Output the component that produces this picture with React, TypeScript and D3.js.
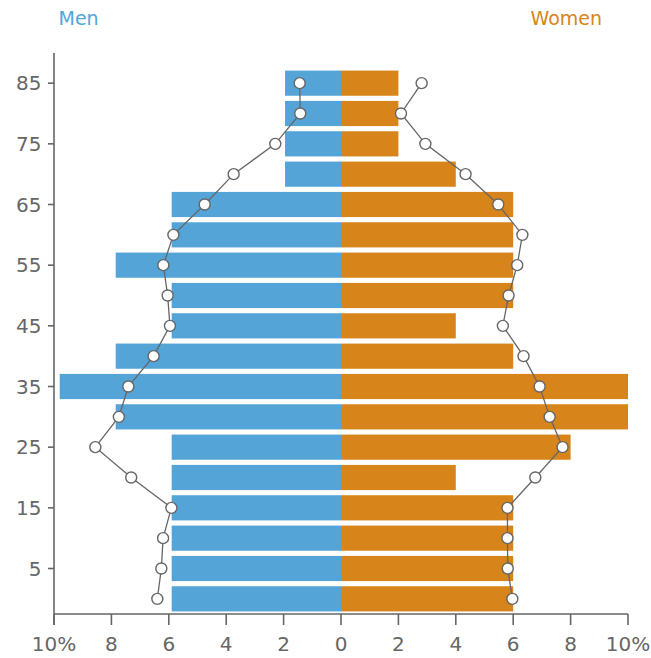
import React from "react";
import * as d3 from "d3";

const ages = [85, 80, 75, 70, 65, 60, 55, 50, 45, 40, 35, 30, 25, 20, 15, 10, 5, 0];
const menBars = [1.95, 1.95, 1.95, 1.95, 5.9, 5.9, 7.85, 5.9, 5.9, 7.85, 9.8, 7.85, 5.9, 5.9, 5.9, 5.9, 5.9, 5.9];
const womenBars = [2, 2, 2, 4, 6, 6, 6, 6, 4, 6, 10, 10, 8, 4, 6, 6, 6, 6];
const menPoints = [1.44, 1.42, 2.29, 3.74, 4.75, 5.84, 6.19, 6.04, 5.96, 6.53, 7.41, 7.74, 8.56, 7.31, 5.91, 6.2, 6.26, 6.4];
const womenPoints = [2.81, 2.09, 2.94, 4.34, 5.48, 6.32, 6.14, 5.84, 5.64, 6.36, 6.92, 7.27, 7.72, 6.77, 5.8, 5.8, 5.81, 5.97];
const yTickAges = [85, 75, 65, 55, 45, 35, 25, 15, 5];
const xTicks = [-10, -8, -6, -4, -2, 0, 2, 4, 6, 8, 10];
const xTickLabels = ["10%", "8", "6", "4", "2", "0", "2", "4", "6", "8", "10%"];

const BLUE = "#54A4D7";
const ORANGE = "#D7851A";
const GRAY = "#666666";
const FONT = "DejaVu Sans, Verdana, sans-serif";

export default function App() {
  const W = 651, H = 658;
  const x = d3.scaleLinear().domain([-10, 10]).range([54, 628]);
  const y = d3.scaleBand<number>().domain(ages).range([68, 614]).paddingInner(0.17).paddingOuter(0.085);
  const yc = (a: number) => (y(a) as number) + y.bandwidth() / 2;
  const axisTop = 53, axisBottom = 614;

  const menLine = d3.line<number>().x((v) => x(-v)).y((_, i) => yc(ages[i]))(menPoints) as string;
  const womenLine = d3.line<number>().x((v) => x(v)).y((_, i) => yc(ages[i]))(womenPoints) as string;

  return (
    <svg width={W} height={H} style={{ position: "absolute", left: 0, top: 0 }} fontFamily={FONT}>
      <rect width={W} height={H} fill="#fff" />
      <text x={58.5} y={25} fontSize={19} fill={BLUE}>Men</text>
      <text x={602} y={25} fontSize={19} fill={ORANGE} textAnchor="end">Women</text>

      {ages.map((a, i) => (
        <rect key={"m" + a} x={x(-menBars[i])} y={y(a)} width={x(0) - x(-menBars[i])} height={y.bandwidth()} fill={BLUE} />
      ))}
      {ages.map((a, i) => (
        <rect key={"w" + a} x={x(0)} y={y(a)} width={x(womenBars[i]) - x(0)} height={y.bandwidth()} fill={ORANGE} />
      ))}

      {/* axes */}
      <line x1={x(-10)} x2={x(-10)} y1={axisTop} y2={axisBottom + 11} stroke={GRAY} strokeWidth={1.6} />
      <line x1={x(-10)} x2={x(10)} y1={axisBottom} y2={axisBottom} stroke={GRAY} strokeWidth={1.6} />
      {xTicks.map((t, i) => (
        <g key={"xt" + i}>
          <line x1={x(t)} x2={x(t)} y1={axisBottom} y2={axisBottom + 11} stroke={GRAY} strokeWidth={1.6} />
          <text x={x(t)} y={651} fontSize={20} fill={GRAY} textAnchor="middle">{xTickLabels[i]}</text>
        </g>
      ))}
      {yTickAges.map((a) => (
        <g key={"yt" + a}>
          <line x1={x(-10) - 6} x2={x(-10)} y1={yc(a)} y2={yc(a)} stroke={GRAY} strokeWidth={1.6} />
          <text x={41.5} y={yc(a)} dy="0.36em" fontSize={20} fill={GRAY} textAnchor="end">{a}</text>
        </g>
      ))}

      <path d={menLine} fill="none" stroke={GRAY} strokeWidth={1.3} />
      <path d={womenLine} fill="none" stroke={GRAY} strokeWidth={1.3} />
      {ages.map((a, i) => (
        <circle key={"mp" + a} cx={x(-menPoints[i])} cy={yc(a)} r={5.5} fill="#fff" stroke={GRAY} strokeWidth={1.4} />
      ))}
      {ages.map((a, i) => (
        <circle key={"wp" + a} cx={x(womenPoints[i])} cy={yc(a)} r={5.5} fill="#fff" stroke={GRAY} strokeWidth={1.4} />
      ))}
    </svg>
  );
}
